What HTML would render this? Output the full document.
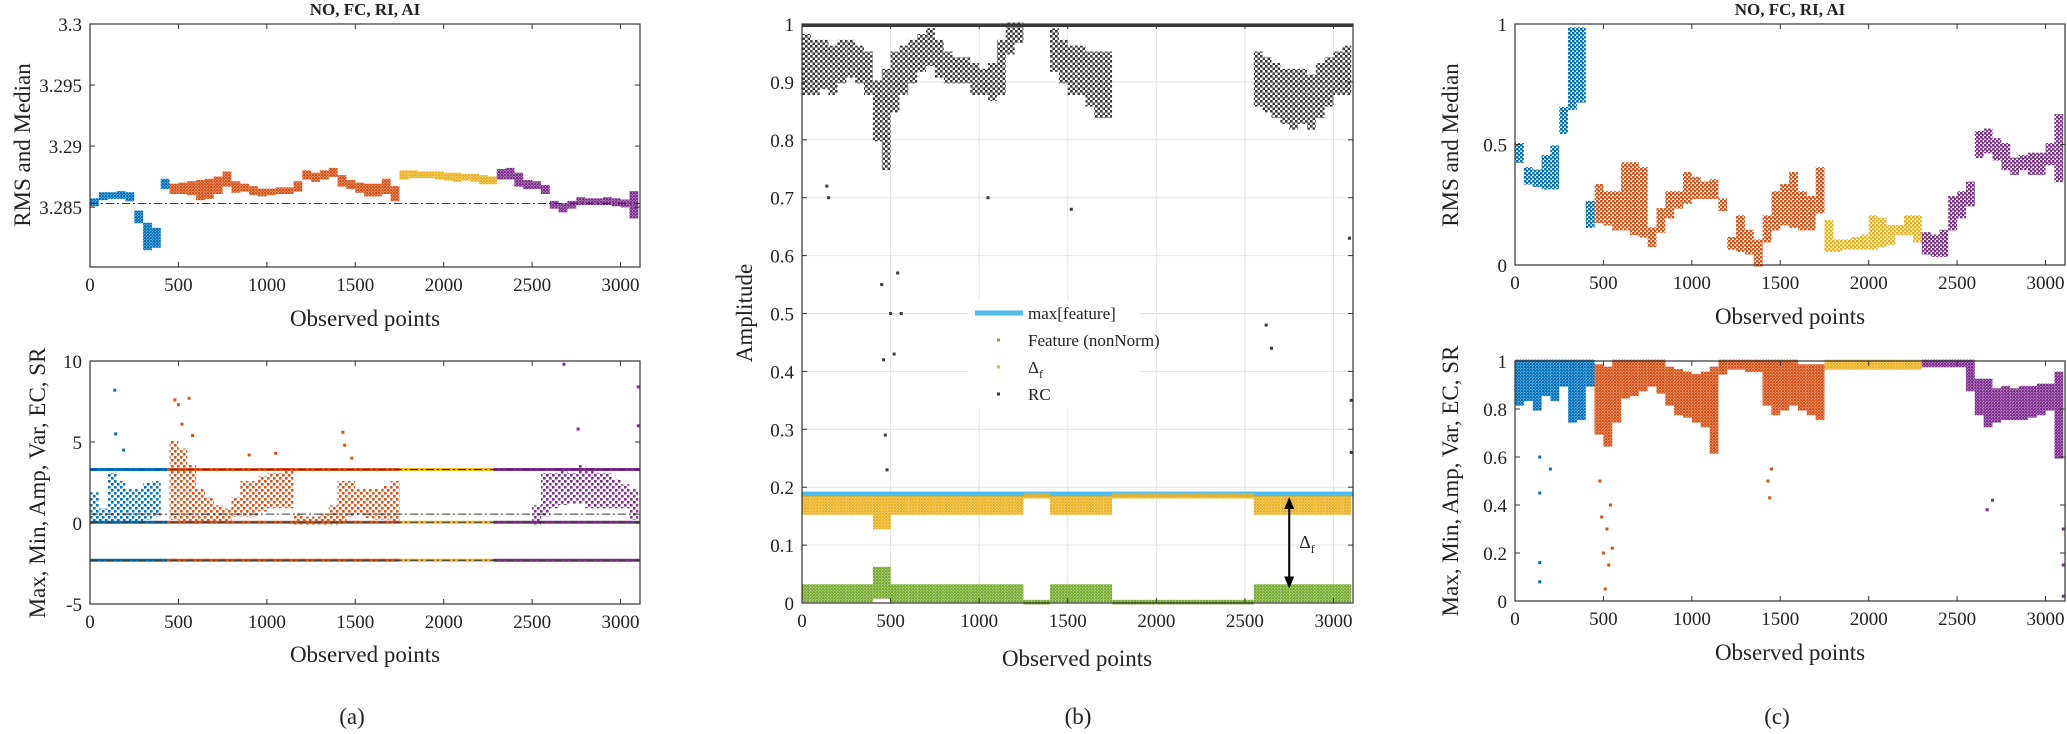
<!DOCTYPE html>
<html><head><meta charset="utf-8"><style>
html,body{margin:0;padding:0;background:#fff}
svg{display:block;font-family:"Liberation Serif",serif}
text{font-family:"Liberation Serif",serif}
</style></head><body>
<svg id="fig" width="2067" height="734" viewBox="0 0 2067 734" xmlns="http://www.w3.org/2000/svg"><defs id="defs"></defs></svg>
<script>
// ---------- data (50-unit bins over observed points 0..3100) ----------
const segBounds=[440,1750,2280];
const segColors=['#0072BD','#D95319','#EDB120','#7E2F8E'];
const xTicks=[0,500,1000,1500,2000,2500,3000];

const aTopLow=[3.2852,3.2857,3.2858,3.2858,3.2856,3.2838,3.2816,3.2818,3.2866,3.2862,3.2862,3.2861,3.2857,3.2858,3.2862,3.2868,3.2863,3.2864,3.2861,3.2860,3.2861,3.2862,3.2862,3.2864,3.2874,3.2872,3.2874,3.2876,3.2868,3.2866,3.2863,3.2860,3.2860,3.2862,3.2856,3.2874,3.2875,3.2875,3.2875,3.2874,3.2873,3.2872,3.2873,3.2872,3.2870,3.2870,3.2874,3.2874,3.2868,3.2866,3.2866,3.2862,3.2850,3.2847,3.2850,3.2853,3.2853,3.2853,3.2853,3.2852,3.2851,3.2842];
const aTopHigh=[3.2856,3.2861,3.2861,3.2862,3.2861,3.2846,3.2836,3.2832,3.2872,3.2868,3.2869,3.2870,3.2871,3.2872,3.2874,3.2878,3.2870,3.2868,3.2866,3.2864,3.2864,3.2865,3.2865,3.2870,3.2879,3.2877,3.2879,3.2881,3.2875,3.2871,3.2869,3.2868,3.2868,3.2872,3.2866,3.2879,3.2879,3.2878,3.2878,3.2878,3.2877,3.2877,3.2876,3.2876,3.2875,3.2874,3.2880,3.2881,3.2877,3.2871,3.2870,3.2867,3.2854,3.2852,3.2854,3.2857,3.2856,3.2856,3.2857,3.2856,3.2855,3.2862];
const aTopRef=3.2853;

const aBotLow=[0.2,0.2,0.2,0.2,0.2,0.2,0.3,0.5,null,0.3,0.2,0.2,0.1,0.1,0.1,0.1,0.5,0.5,0.5,0.8,1,1,1,0,0,0,0,0,0.2,0.5,0.6,0.4,0.3,0.3,0.2,null,null,null,null,null,null,null,null,null,null,null,null,null,null,null,0,0.5,1,1.2,1.3,1.3,1,1,1,1,1,0.3];
const aBotHigh=[1.8,0.8,3,2.5,2,2,2.4,2.5,null,5,4.5,3.5,2,1.5,1,0.8,1.5,2.5,2.5,2.8,3,3,3.2,0.5,0.3,0.3,0.5,1,2.5,2.5,2,2,2,2.2,2.5,null,null,null,null,null,null,null,null,null,null,null,null,null,null,null,1,3,3,3.2,3,3.5,3.2,3,3,2.6,2.3,2];
const aBotOutX=[140,145,190,480,500,520,560,580,900,1050,1430,1440,1480,2680,2760,3100,3100];
const aBotOutY=[8.2,5.5,4.5,7.6,7.3,6.1,7.7,5.4,4.2,4.3,5.6,4.8,4.0,9.8,5.8,8.4,6.0];
const aBotLines=[3.3,0.05,-2.3];
const aBotRef=[3.3,0.55,0.05,-2.3];

const rcLow=[0.88,0.88,0.89,0.88,0.9,0.91,0.9,0.88,0.8,0.75,0.85,0.88,0.9,0.92,0.93,0.91,0.9,0.9,0.9,0.88,0.88,0.87,0.88,0.95,0.97,null,null,null,0.92,0.9,0.88,0.88,0.86,0.84,0.84,null,null,null,null,null,null,null,null,null,null,null,null,null,null,null,null,0.86,0.85,0.84,0.83,0.82,0.83,0.82,0.84,0.86,0.88,0.88];
const rcHigh=[0.98,0.97,0.97,0.96,0.97,0.97,0.96,0.95,0.9,0.92,0.95,0.96,0.97,0.98,0.99,0.97,0.95,0.94,0.94,0.93,0.92,0.93,0.97,1,1,null,null,null,0.99,0.97,0.96,0.96,0.95,0.95,0.95,null,null,null,null,null,null,null,null,null,null,null,null,null,null,null,null,0.95,0.94,0.93,0.92,0.92,0.92,0.91,0.93,0.94,0.95,0.96];
const rcOutX=[140,150,450,460,470,480,500,520,540,560,1050,1520,2620,2650,3090,3100,3100];
const rcOutY=[0.72,0.7,0.55,0.42,0.29,0.23,0.5,0.43,0.57,0.5,0.7,0.68,0.48,0.44,0.63,0.35,0.26];
const maxFeature=0.188;
const rcTop=1.0;

const cTopLow=[0.43,0.34,0.33,0.32,0.32,0.55,0.65,0.68,0.16,0.18,0.17,0.15,0.15,0.13,0.12,0.08,0.14,0.2,0.24,0.26,0.28,0.28,0.28,0.23,0.07,0.06,0.05,0.0,0.1,0.15,0.17,0.16,0.15,0.15,0.22,0.06,0.06,0.07,0.07,0.07,0.07,0.08,0.09,0.13,0.13,0.1,0.05,0.04,0.04,0.15,0.2,0.25,0.45,0.47,0.44,0.4,0.38,0.4,0.38,0.38,0.42,0.35];
const cTopHigh=[0.5,0.4,0.39,0.45,0.49,0.65,0.98,0.98,0.26,0.33,0.3,0.3,0.42,0.42,0.4,0.15,0.23,0.3,0.3,0.38,0.36,0.34,0.35,0.27,0.11,0.2,0.14,0.1,0.2,0.3,0.33,0.38,0.3,0.28,0.4,0.18,0.1,0.1,0.11,0.12,0.2,0.19,0.16,0.16,0.2,0.2,0.13,0.12,0.14,0.28,0.3,0.34,0.55,0.56,0.52,0.5,0.44,0.45,0.46,0.46,0.5,0.62];

const cBotLow=[0.82,0.84,0.8,0.86,0.84,0.9,0.75,0.76,0.9,0.7,0.65,0.75,0.85,0.86,0.88,0.9,0.87,0.82,0.78,0.77,0.75,0.73,0.62,0.95,0.97,0.97,0.96,0.96,0.82,0.78,0.8,0.82,0.8,0.78,0.76,0.97,0.97,0.97,0.97,0.97,0.97,0.97,0.97,0.97,0.97,0.97,0.98,0.98,0.98,0.98,0.98,0.88,0.78,0.73,0.75,0.76,0.76,0.76,0.77,0.78,0.8,0.6];
const cBotHigh=[1,1,1,1,1,1,1,1,1,0.98,0.97,1,1,1,1,1,1,0.97,0.96,0.95,0.94,0.95,0.97,1,1,1,1,1,1,1,1,1,0.98,0.98,0.98,1,1,1,1,1,1,1,1,1,1,1,1,1,1,1,1,1,0.92,0.92,0.88,0.89,0.88,0.89,0.89,0.9,0.9,0.95];
const cBotOutX=[140,140,140,140,200,480,490,500,510,520,530,540,550,1430,1440,1450,2670,2700,3100,3100,3100];
const cBotOutY=[0.45,0.16,0.08,0.6,0.55,0.5,0.35,0.2,0.05,0.3,0.15,0.4,0.22,0.5,0.43,0.55,0.38,0.42,0.3,0.15,0.02];

// ---------- drawing ----------
const NS='http://www.w3.org/2000/svg';
const svg=document.getElementById('fig');
const defs=document.getElementById('defs');
const BIN=50, XMAX=3110;
function mk(tag,attrs,parent){const e=document.createElementNS(NS,tag);for(const k in attrs)e.setAttribute(k,attrs[k]);(parent||svg).appendChild(e);return e;}
const patCache={};
function pat(color,cell){const id='p'+color.slice(1)+'_'+cell;if(!patCache[id]){
  const p=mk('pattern',{id,patternUnits:'userSpaceOnUse',width:cell,height:cell},defs);
  mk('rect',{x:0,y:0,width:2.6,height:2.6,fill:color},p);
  mk('rect',{x:cell/2,y:cell/2,width:2.6,height:2.6,fill:color},p);
  patCache[id]=1;}return 'url(#'+id+')';}
function segColor(x){for(let i=0;i<segBounds.length;i++)if(x<segBounds[i])return segColors[i];return segColors[3];}
function axes(L,R,T,B,ymin,ymax){return {L,R,T,B,sx:v=>L+(v/XMAX)*(R-L),sy:v=>B-(v-ymin)/(ymax-ymin)*(B-T)};}
function text(x,y,s,size,anchor,name,extra){const t=mk('text',Object.assign({x,y,'font-size':size,'text-anchor':anchor||'middle',fill:'#222','font-family':'Liberation Serif, serif'},extra||{}));t.textContent=s;


return t;}
function frame(ax,yticks,name){
  const g=mk('g',{});
  
  
  xTicks.forEach(v=>mk('line',{x1:ax.sx(v),x2:ax.sx(v),y1:ax.T,y2:ax.B,stroke:'#e3e3e3','stroke-width':1},g));
  yticks.forEach(v=>mk('line',{x1:ax.L,x2:ax.R,y1:ax.sy(v),y2:ax.sy(v),stroke:'#e3e3e3','stroke-width':1},g));
  return g;}
function box(ax,yticks,ylabels){
  const g=mk('g',{});
  
  
  mk('rect',{x:ax.L,y:ax.T,width:ax.R-ax.L,height:ax.B-ax.T,fill:'none',stroke:'#333','stroke-width':1.2},g);
  xTicks.forEach(v=>{const x=ax.sx(v);mk('line',{x1:x,x2:x,y1:ax.B,y2:ax.B-5,stroke:'#333'},g);mk('line',{x1:x,x2:x,y1:ax.T,y2:ax.T+5,stroke:'#333'},g);
    text(x,ax.B+24,String(v),19,'middle','x-tick-label');});
  yticks.forEach((v,i)=>{const y=ax.sy(v);mk('line',{x1:ax.L,x2:ax.L+5,y1:y,y2:y,stroke:'#333'},g);mk('line',{x1:ax.R,x2:ax.R-5,y1:y,y2:y,stroke:'#333'},g);
    text(ax.L-8,y+7,ylabels[i],19,'end','y-tick-label');});
}
function bands(ax,lo,hi,colorFn,cell,name){
  const g=mk('g',{});
  
  
  lo.forEach((l,i)=>{if(l===null||hi[i]===null)return;const x0=i*BIN,x1=Math.min((i+1)*BIN,XMAX);
    const y1=ax.sy(hi[i]),y2=ax.sy(l);
    const r=mk('rect',{x:ax.sx(x0),y:y1-1.5,width:ax.sx(x1)-ax.sx(x0),height:Math.max(3,y2-y1+3),fill:cell?pat(colorFn(x0+BIN/2),cell):colorFn(x0+BIN/2)},g);
    
    
  });}
function dots(ax,xs,ys,colorFn,name){
  const g=mk('g',{});
  
  
  xs.forEach((x,i)=>{const d=mk('rect',{x:ax.sx(x)-1.5,y:ax.sy(ys[i])-1.5,width:3,height:3,fill:colorFn(x)},g);
    
    });}
function segLine(ax,y,w,name){
  const bs=[0].concat(segBounds,[XMAX]);
  for(let i=0;i<bs.length-1;i++){const l=mk('line',{x1:ax.sx(bs[i]),x2:ax.sx(bs[i+1]),y1:ax.sy(y),y2:ax.sy(y),stroke:segColors[i],'stroke-width':w});
    
    }}
function refLine(ax,y,name){const l=mk('line',{x1:ax.L,x2:ax.R,y1:ax.sy(y),y2:ax.sy(y),stroke:'#333','stroke-width':1,'stroke-dasharray':'8,3,2,3'});
  
  }

// Panel (a) top
const aT=axes(90,640,24,267,3.2801,3.3);
bands(aT,aTopLow,aTopHigh,segColor,3,'rms-median-scatter');
refLine(aT,aTopRef,'rms-reference-line');
box(aT,[3.285,3.29,3.295,3.3],['3.285','3.29','3.295','3.3']);
text(365,15,'NO, FC, RI, AI',17,'middle','panel-a-title',{'font-weight':'bold'});
text(365,326,'Observed points',23,'middle','x-axis-title');
text(30,145,'RMS and Median',23,'middle','y-axis-title',{transform:'rotate(-90 30 145)'});

// Panel (a) bottom
const aB=axes(90,640,361,604,-5,10);
bands(aB,aBotLow,aBotHigh,segColor,6,'feature-scatter');
dots(aB,aBotOutX,aBotOutY,segColor,'feature-outliers');
aBotLines.forEach(v=>segLine(aB,v,3,'threshold-line'));
aBotRef.forEach(v=>refLine(aB,v,'reference-line'));
box(aB,[-5,0,5,10],['-5','0','5','10']);
text(365,662,'Observed points',23,'middle','x-axis-title');
text(45,483,'Max, Min, Amp, Var, EC, SR',23,'middle','y-axis-title',{transform:'rotate(-90 45 483)'});
text(352,724,'(a)',23,'middle','caption-a');

// Panel (b)
const bAx=axes(802,1353,24,603,0,1);
const bt=[0,0.1,0.2,0.3,0.4,0.5,0.6,0.7,0.8,0.9,1];
frame(bAx,bt,'grid');
const grey=()=> '#3a3a3a', yel=()=>'#EDB120', grn=()=>'#77AC30';
bands(bAx,rcLow,rcHigh,grey,5,'rc-scatter');
dots(bAx,rcOutX,rcOutY,grey,'rc-outliers');
const rcL=mk('line',{x1:bAx.L,x2:bAx.R,y1:bAx.sy(rcTop)+1.5,y2:bAx.sy(rcTop)+1.5,stroke:'#3a3a3a','stroke-width':3});


const dfLow=rcLow.map((v,i)=>v===null?0.183:(i===8||i===9?0.13:0.155));
const dfHigh=rcLow.map(v=>v===null?0.187:0.182);
const ftLow=rcLow.map((v,i)=>v===null?0.0:(i===8||i===9?0.01:0.004));
const ftHigh=rcLow.map((v,i)=>v===null?0.003:(i===8||i===9?0.06:0.03));
const mfl=mk('line',{x1:bAx.L,x2:bAx.R,y1:bAx.sy(maxFeature),y2:bAx.sy(maxFeature),stroke:'#4DBEEE','stroke-width':5});


bands(bAx,dfLow,dfHigh,yel,3,'delta-f-scatter');
bands(bAx,ftLow,ftHigh,grn,3,'feature-nonnorm-scatter');
(function(){const x=bAx.sx(2750),y1=bAx.sy(0.183),y2=bAx.sy(0.025);
 const g=mk('g',{});
 
 
 mk('line',{x1:x,x2:x,y1:y1+8,y2:y2-8,stroke:'#000','stroke-width':2},g);
 mk('polygon',{points:`${x-5},${y1+12} ${x+5},${y1+12} ${x},${y1}`,fill:'#000'},g);
 mk('polygon',{points:`${x-5},${y2-12} ${x+5},${y2-12} ${x},${y2}`,fill:'#000'},g);
 const t=text(x+10,bAx.sy(0.095),'Δ',18,'start','delta-f-label');
 const s=mk('tspan',{'font-size':12,dy:5});s.textContent='f';t.appendChild(s);})();
box(bAx,bt,['0','0.1','0.2','0.3','0.4','0.5','0.6','0.7','0.8','0.9','1']);
text(1077,666,'Observed points',23,'middle','x-axis-title');
text(752,313,'Amplitude',23,'middle','y-axis-title',{transform:'rotate(-90 752 313)'});
text(1078,724,'(b)',23,'middle','caption-b');
(function(){const g=mk('g',{});
 
 
 mk('rect',{x:968,y:300,width:172,height:108,fill:'#fff'},g);
 const rows=[['max[feature]','line','#4DBEEE'],['Feature (nonNorm)','dot','#77AC30'],['Δ','dot','#EDB120'],['RC','dot','#3a3a3a']];
 rows.forEach((r,i)=>{const y=313+i*27;
  if(r[1]==='line')mk('rect',{x:975,y:y-2.5,width:48,height:5,fill:r[2]},g);else mk('rect',{x:997,y:y-1.5,width:3,height:3,fill:r[2]},g);
  const t=text(1028,y+6,r[0],17,'start','legend-entry');
  if(i===2){const s=mk('tspan',{'font-size':12,dy:5});s.textContent='f';t.appendChild(s);}});})();

// Panel (c) top
const cT=axes(1515,2065,24,265,0,1);
bands(cT,cTopLow,cTopHigh,segColor,4,'rms-median-normalized-scatter');
box(cT,[0,0.5,1],['0','0.5','1']);
text(1790,15,'NO, FC, RI, AI',17,'middle','panel-c-title',{'font-weight':'bold'});
text(1790,324,'Observed points',23,'middle','x-axis-title');
text(1458,145,'RMS and Median',23,'middle','y-axis-title',{transform:'rotate(-90 1458 145)'});

// Panel (c) bottom
const cB=axes(1515,2065,361,601,0,1);
bands(cB,cBotLow,cBotHigh,segColor,3,'feature-normalized-scatter');
dots(cB,cBotOutX,cBotOutY,segColor,'feature-normalized-outliers');
box(cB,[0,0.2,0.4,0.6,0.8,1],['0','0.2','0.4','0.6','0.8','1']);
text(1790,660,'Observed points',23,'middle','x-axis-title');
text(1458,481,'Max, Min, Amp, Var, EC, SR',23,'middle','y-axis-title',{transform:'rotate(-90 1458 481)'});
text(1777,724,'(c)',23,'middle','caption-c');
</script>
</body></html>
